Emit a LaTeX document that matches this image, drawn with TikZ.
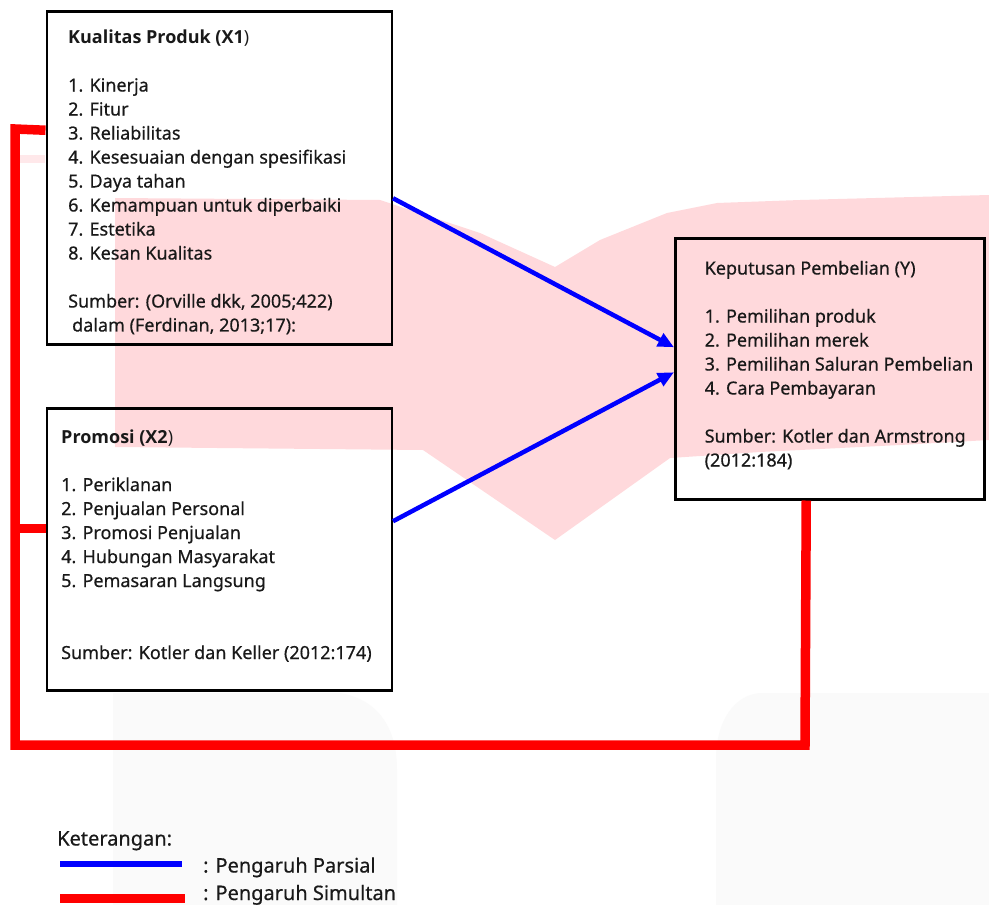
\documentclass[tikz,border=0pt]{standalone}
\usepackage{fontspec}
\setmainfont{Noto Sans}[UprightFeatures={FakeBold=0.5}]
\newfontfamily\headfont{Open Sans}
\usetikzlibrary{arrows.meta}
\definecolor{wm}{RGB}{255,217,220}
\definecolor{wmlight}{RGB}{255,232,234}
\definecolor{fog}{RGB}{250,250,250}
\definecolor{pblue}{RGB}{0,0,255}
\definecolor{pred}{RGB}{255,0,0}
\newcommand{\bxfont}{\fontsize{18}{24}\selectfont}
\newcommand{\lgfont}{\fontsize{20}{26}\selectfont}
\newcommand{\hd}[1]{{\headfont\bfseries #1}}
\tikzset{
  varbox/.style={draw=black, line width=2.5pt, anchor=north west, inner sep=0pt},
  boxtext/.style={anchor=base west, inner sep=0pt, font=\bxfont, text=black!90},
  legtext/.style={anchor=base west, inner sep=0pt, font=\lgfont, text=black!90},
  parsial/.style={draw=pblue, line width=4.5pt, -{Triangle[length=16pt,width=14pt]}},
  simultan/.style={draw=pred, line width=9.5pt, line join=miter},
}
\begin{document}
\begin{tikzpicture}[x=1pt,y=-1pt]
\useasboundingbox (0,0) rectangle (989,905);
\fill[white] (0,0) rectangle (989,905);
% faint background marks
\fill[fog] (113,905) -- (113,693) -- (340,693) .. controls (380,700) and (397,730) .. (397,770) -- (397,905) -- cycle;
\fill[fog] (716,905) -- (716,760) .. controls (716,720) and (735,695) .. (760,693) -- (989,693) -- (989,905) -- cycle;
\fill[wm] (115,198) -- (380,200) -- (480,233) -- (555,267) -- (600,240) -- (667,213) -- (717,203) -- (800,200) -- (989,195)
  -- (989,440) -- (900,445) -- (760,452) -- (670,458) -- (555,540) -- (423,450) -- (115,447) -- cycle;
\fill[wmlight] (20,155) rectangle (45,163);

% boxes
\node[varbox, minimum width=345pt, minimum height=333pt] (x1) at (45.5,10) {};
\node[varbox, minimum width=345pt, minimum height=282pt] (x2) at (45.5,407) {};
\node[varbox, minimum width=309pt, minimum height=261pt] (y) at (674,237) {};

% texts
\node[boxtext] (t1) at (68,43.5) {\begin{tabular}[t]{@{}l@{}}
\hd{Kualitas Produk (X1}{\headfont)}\\
\\
1. Kinerja\\
2. Fitur\\
3. Reliabilitas\\
4. Kesesuaian dengan spesifikasi\\
5. Daya tahan\\
6. Kemampuan untuk diperbaiki\\
7. Estetika\\
8. Kesan Kualitas\\
\\
Sumber: (Orville dkk, 2005;422)\\
\hspace{4pt}dalam (Ferdinan, 2013;17):
\end{tabular}};

\node[boxtext] (t2) at (61,443) {\begin{tabular}[t]{@{}l@{}}
\hd{Promosi (X2}{\headfont)}\\
\\
1. Periklanan\\
2. Penjualan Personal\\
3. Promosi Penjualan\\
4. Hubungan Masyarakat\\
5. Pemasaran Langsung\\
\\
\\
Sumber: Kotler dan Keller (2012:174)
\end{tabular}};

\node[boxtext] (t3) at (704.5,274.5) {\begin{tabular}[t]{@{}l@{}}
Keputusan Pembelian (Y)\\
\\
1. Pemilihan produk\\
2. Pemilihan merek\\
3. Pemilihan Saluran Pembelian\\
4. Cara Pembayaran\\
\\
Sumber: Kotler dan Armstrong\\
(2012:184)
\end{tabular}};

% partial influence arrows
\draw[parsial] ([yshift=-20.5pt]x1.east) -- ([yshift=21.5pt]y.west);
\draw[parsial] ([yshift=28pt]x2.east) -- ([yshift=-3.5pt]y.west);

% simultaneous influence
\coordinate (lt) at (15,129);
\coordinate (lb) at (15,745);
\coordinate (rb) at (805,745);
\draw[simultan] ([yshift=47.5pt]x1.west) -- (lt) -- (lb) -- (rb) -- ([xshift=-23.5pt]y.south);
\draw[simultan] ([yshift=21pt]x2.west) -- ++(-29.25,0);

% legend
\node[legtext] (lgt) at (57,845.5) {Keterangan:};
\coordinate (lba) at (60,864);
\coordinate (lbb) at (182,864);
\coordinate (lra) at (60,898.5);
\coordinate (lrb) at (185,898.5);
\draw[draw=pblue, line width=6pt] (lba) -- (lbb);
\draw[draw=pred, line width=9pt] (lra) -- (lrb);
\node[legtext] (lg1) at (203,872.5) {: Pengaruh Parsial};
\node[legtext] (lg2) at (203,900) {: Pengaruh Simultan};
\end{tikzpicture}
\end{document}
